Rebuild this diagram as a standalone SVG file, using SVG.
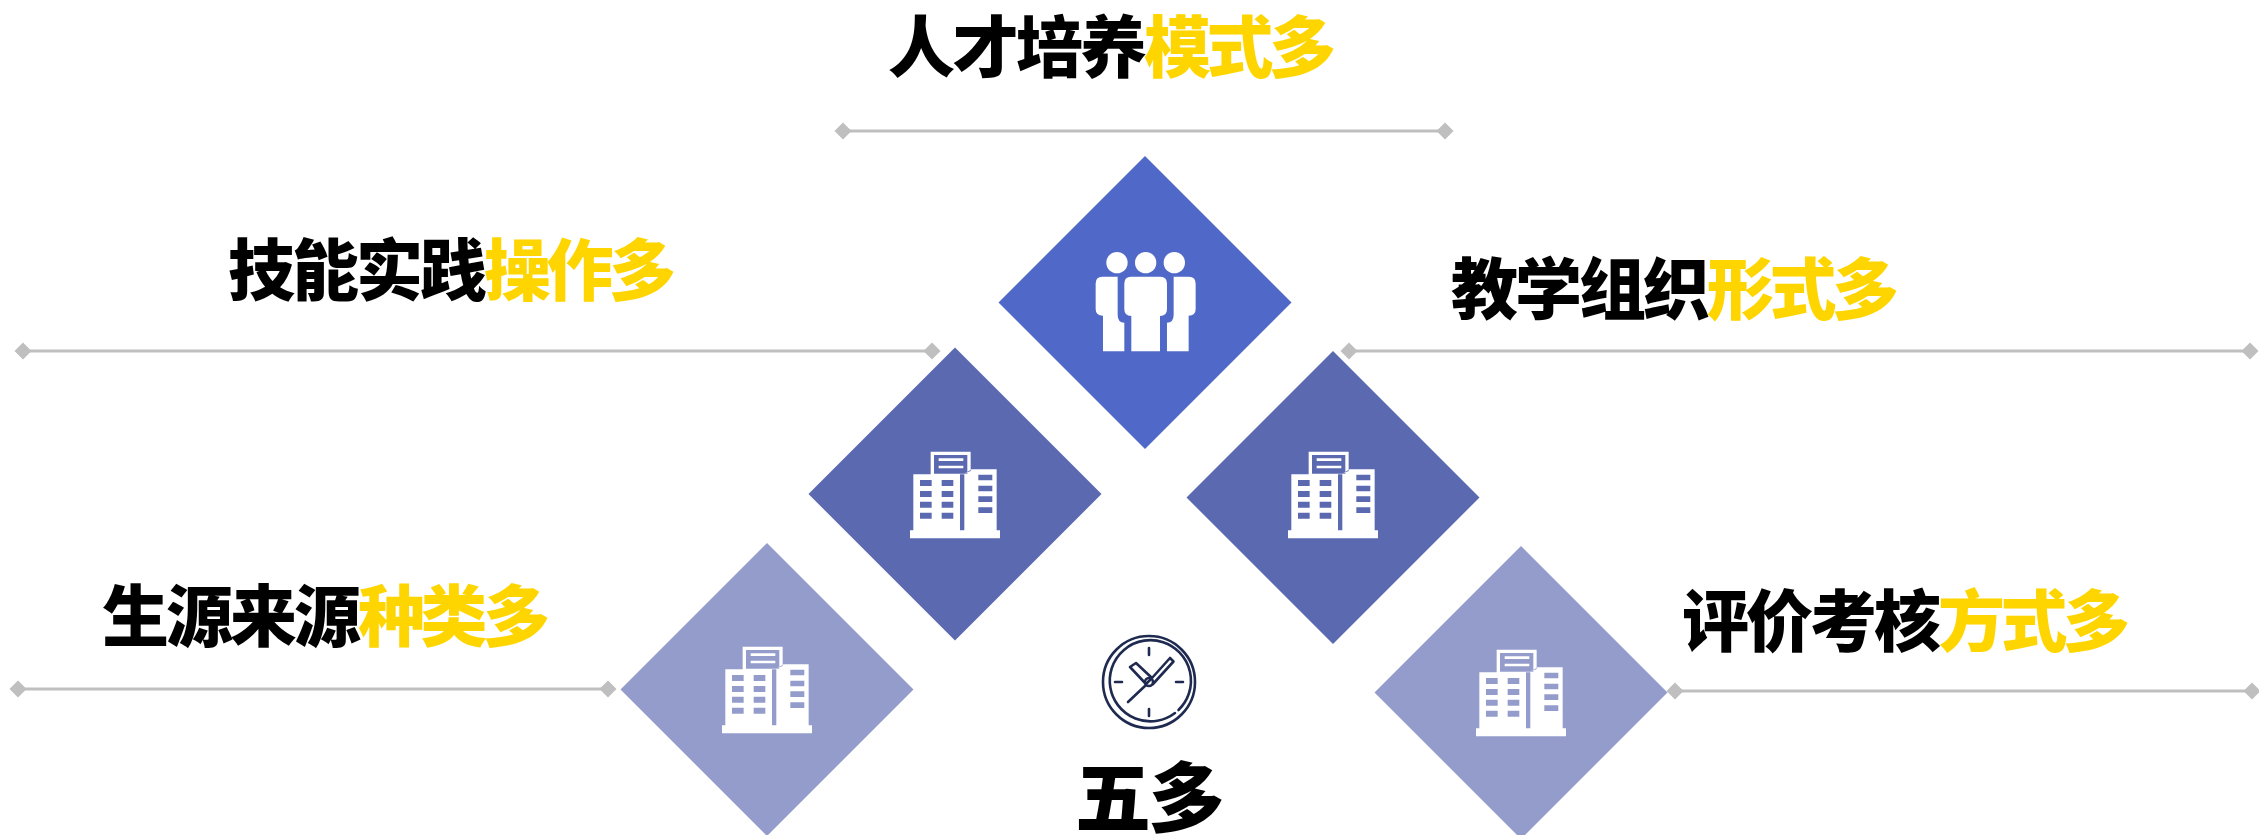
<svg xmlns="http://www.w3.org/2000/svg" xmlns:xlink="http://www.w3.org/1999/xlink" width="2259" height="835" viewBox="0 0 2259 835">
<style>
text{font-family:"Liberation Sans","Noto Sans CJK SC","Noto Sans CJK JP",sans-serif;font-weight:900;font-size:67px;letter-spacing:-3px;fill:#000}
.y{fill:#FFD500;letter-spacing:-4.500px}
.ln{stroke:#BFBFBF;stroke-width:3;fill:none}
.dm{fill:#BFBFBF}
.ic{fill:#fff;fill-rule:evenodd}
.ck{fill:none;stroke:#1F2A50;stroke-width:2.6;stroke-linecap:round;stroke-linejoin:round}
</style>
<defs>
<path id="d" d="M0-8.500 8.500 0 0 8.500-8.500 0Z"/>
<path id="bld" class="ic" d="M150 298H160V130H212V62H332V120L313 128 335 115H410V298H420V322H150ZM222 72V128H322V72ZM236 82H310V90H236ZM236 104H310V112H236ZM180 147V165H215V147ZM245 147V165H280V147ZM180 180V198H215V180ZM245 180V198H280V180ZM180 212V230H215V212ZM245 212V230H280V212ZM180 245V263H215V245ZM245 245V263H280V245ZM300 130V298H313V130ZM355 131V148H397V131ZM355 164V181H397V164ZM355 196V213H397V196ZM355 229V246H397V229Z"/>
</defs>
<g id="connectors">
<path class="ln" d="M843 131H1445M23 351H932M1349 351H2250M18 689H608M1675 691H2252"/>
<g class="dm">
<use xlink:href="#d" href="#d" x="843" y="131"/><use xlink:href="#d" href="#d" x="1445" y="131"/>
<use xlink:href="#d" href="#d" x="23" y="351"/><use xlink:href="#d" href="#d" x="932" y="351"/>
<use xlink:href="#d" href="#d" x="1349" y="351"/><use xlink:href="#d" href="#d" x="2250" y="351"/>
<use xlink:href="#d" href="#d" x="18" y="689"/><use xlink:href="#d" href="#d" x="608" y="689"/>
<use xlink:href="#d" href="#d" x="1675" y="691"/><use xlink:href="#d" href="#d" x="2252" y="691"/>
</g>
</g>
<g id="node-top">
<path fill="#5069C8" d="M1145 156 1291.500 302.500 1145 449 998.500 302.500Z"/>
<g class="ic" transform="translate(980 140) scale(.3333)">
<circle cx="411" cy="368" r="32"/><circle cx="497" cy="368" r="32"/><circle cx="583" cy="368" r="32"/>
<path d="M453 410H541Q561 410 561 430V508Q561 528 540 528V634H454V528Q433 528 433 508V430Q433 410 453 410Z"/>
<path d="M367 410H413V525Q413 548 433 548V634H369V527Q347 527 347 507V430Q347 410 367 410Z"/>
<path d="M627 410H581V525Q581 548 561 548V634H626V527Q647 527 647 507V430Q647 410 627 410Z"/>
</g>
<text x="888" y="72">人才培养<tspan class="y">模式多</tspan></text>
</g>
<g id="node-left-mid">
<path fill="#5A69B0" d="M955 347.500 1101.500 494 955 640.500 808.500 494Z"/>
<use xlink:href="#bld" href="#bld" transform="translate(860 431) scale(.3333)"/>
<text x="228" y="295">技能实践<tspan class="y">操作多</tspan></text>
</g>
<g id="node-right-mid">
<path fill="#5A69B0" d="M1333 351 1479.500 497.500 1333 644 1186.500 497.500Z"/>
<use xlink:href="#bld" href="#bld" transform="translate(1238 431) scale(.3333)"/>
<text x="1451" y="314">教学组织<tspan class="y">形式多</tspan></text>
</g>
<g id="node-left-low">
<path fill="#939CCB" d="M767 543 913.500 689.500 767 836 620.500 689.500Z"/>
<use xlink:href="#bld" href="#bld" transform="translate(672 626) scale(.3333)"/>
<text x="102" y="641">生源来源<tspan class="y">种类多</tspan></text>
</g>
<g id="node-right-low">
<path fill="#939CCB" d="M1521 546 1667.500 692.500 1521 839 1374.500 692.500Z"/>
<use xlink:href="#bld" href="#bld" transform="translate(1426 629) scale(.3333)"/>
<text x="1682" y="646">评价考核<tspan class="y">方式多</tspan></text>
</g>
<g id="node-center">
<g class="ck">
<circle cx="1149" cy="682" r="46"/>
<path d="M1175 713A40.600 40.600 0 1 1 1178.500 710"/>
<path d="M1149 648V655M1149 709V716M1115 682H1122M1176 682H1183M1128 702 1145.500 685.500M1152 678 1170 658 1173.500 661.500 1153 684M1130 667 1136 663 1152 678 1146 684Z"/>
<circle cx="1149" cy="682" r="4"/>
</g>
<text x="1075" y="826" style="font-size:76px;letter-spacing:-2.500px">五多</text>
</g>
</svg>
